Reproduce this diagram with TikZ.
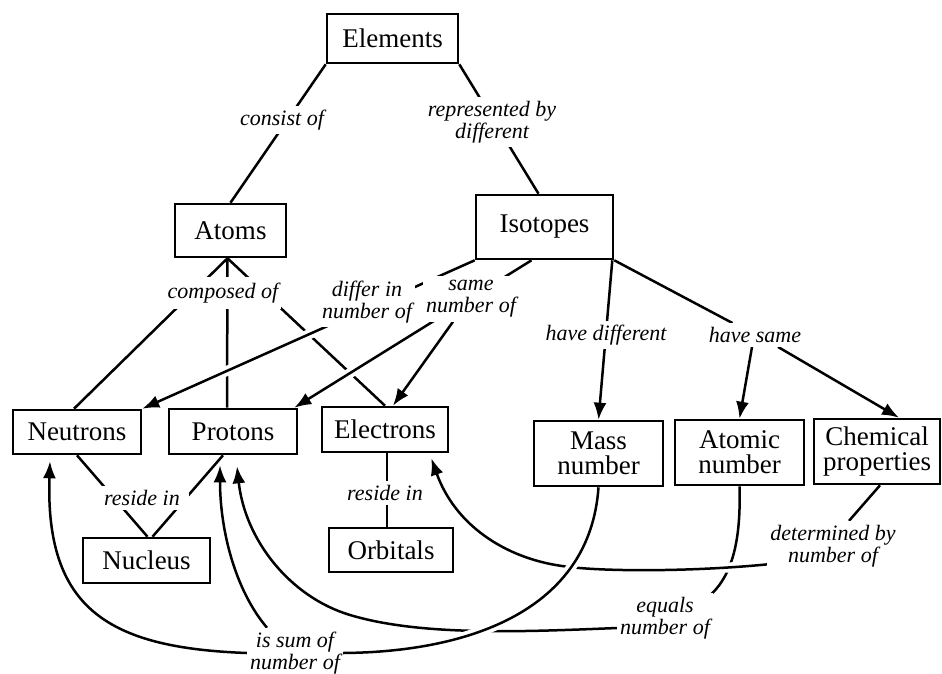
\documentclass[tikz,border=0pt]{standalone}
\usepackage{fontspec}
\setmainfont{Liberation Serif}
\usetikzlibrary{arrows.meta,backgrounds}
\begin{document}
\begin{tikzpicture}[x=1pt,y=-1pt,
  box/.style={draw, line width=2.6pt, inner sep=0pt, font=\fontsize{27}{25}\selectfont, align=center},
  lab/.style={fill=white, inner xsep=3pt, inner ysep=4pt, font=\fontsize{22}{22}\selectfont\itshape, align=center},
  con/.style={line width=2.5pt},
  arr/.style={con, -{Latex[length=17pt,width=13pt]}},
  halo/.style={preaction={draw=white, line width=10pt, arrows=-}},
]
\useasboundingbox (0,0) rectangle (942,674);
% boxes
\node[box, minimum width=131pt, minimum height=49pt] (el) at (392.5,38.5) {Elements};
\node[box, minimum width=111pt, minimum height=53pt] (at) at (230.5,230.5) {Atoms};
\node[box, minimum width=137pt, minimum height=64pt] (is) at (544.5,227) {Isotopes};
\node[box, minimum width=128pt, minimum height=44pt] (ne) at (77,432) {Neutrons};
\node[box, minimum width=128pt, minimum height=45pt] (pr) at (233,431.5) {Protons};
\node[box, minimum width=126pt, minimum height=45pt] (ec) at (385,429.5) {Electrons};
\node[box, minimum width=127pt, minimum height=45pt] (nu) at (146.5,560.5) {Nucleus};
\node[box, minimum width=124pt, minimum height=44pt] (or) at (391,550) {Orbitals};
\node[box, minimum width=129pt, minimum height=65pt] (ma) at (598.5,453.5) {Mass\\number};
\node[box, minimum width=129pt, minimum height=65pt] (an) at (739.5,452.5) {Atomic\\number};
\node[box, minimum width=126pt, minimum height=65pt] (ch) at (877,451.5) {Chemical\\properties};
% labels
\node[lab] (lcon) at (282,120) {consist of};
\node[lab] (lrep) at (492,122) {represented by\\different};
\node[lab, inner ysep=6pt] (lcomp) at (223,293) {composed of};
\node[lab] (ldiff) at (367,302) {differ in\\number of};
\node[lab] (lsame) at (471,299) {same\\number of};
\node[lab] (lhd) at (606,335) {have different};
\node[lab] (lhs) at (755,335) {have same};
\node[lab, inner xsep=9pt] (lres1) at (142,498) {reside in};
\node[lab] (lres2) at (385,493) {reside in};
\node[lab] (lsum) at (295,653) {is sum of\\number of};
\node[lab] (leq) at (665,618) {equals\\number of};
\node[lab] (ldet) at (833,546) {determined by\\number of};
% connectors
\begin{scope}[on background layer]
\draw[con] (el.south west) -- (at.north);
\draw[con] (el.south east) -- ([xshift=-6pt]is.north);
\draw[con] ([xshift=-3pt]at.south) -- ([xshift=-3pt]ne.north);
\draw[con] ([xshift=-3pt]at.south) -- ([xshift=-6pt]pr.north);
\draw[con] ([xshift=-3pt]at.south) -- (ec.north);
\draw[arr,halo] (is.south west) -- (ne.north east);
\draw[arr,halo] ([xshift=-13pt]is.south) -- ([xshift=-4pt]pr.north east);
\draw[arr] ([xshift=-18pt]lsame.south) -- ([xshift=8pt]ec.north);
\draw[arr] ([xshift=-2pt]is.south east) -- (ma.north);
\draw[con] (is.south east) -- (lhs);
\draw[arr] ([xshift=-3pt]lhs.south) -- (an.north);
\draw[arr] ([xshift=23pt]lhs.south) -- ([xshift=22pt]ch.north);
\draw[con] (ne.south) -- ([xshift=1pt]nu.north);
\draw[con] ([xshift=-10pt]pr.south) -- ([xshift=6pt]nu.north);
\draw[con] ([xshift=2pt]ec.south) -- ([xshift=-4pt]or.north);
\draw[arr] (lsum.west) .. controls (110,648) and (45,610) .. ([xshift=-27pt,yshift=-6pt]ne.south);
\draw[arr] ([xshift=-28pt]lsum.north) .. controls (235,590) and (220,530) .. ([xshift=-13pt,yshift=-10pt]pr.south);
\draw[con] (an.south) .. controls (741,540) and (733,580) .. ([xshift=-10pt,yshift=-8pt]leq.north east);
\draw[arr] ([yshift=-10pt]leq.west) .. controls (520,632) and (420,636) .. (350,615) .. controls (290,597) and (245,540) .. ([xshift=4pt,yshift=-11pt]pr.south);
\draw[con] ([xshift=3pt]ch.south) -- ([xshift=16pt]ldet.north);
\draw[arr,halo] ([xshift=13pt,yshift=-17pt]ldet.west) .. controls (700,572) and (600,572) .. (562,566) .. controls (505,558) and (455,525) .. ([xshift=-18pt,yshift=-5pt]ec.south east);
\draw[con,halo] (lsum.east) .. controls (470,652) and (590,610) .. (ma.south);
\end{scope}
\end{tikzpicture}
\end{document}
